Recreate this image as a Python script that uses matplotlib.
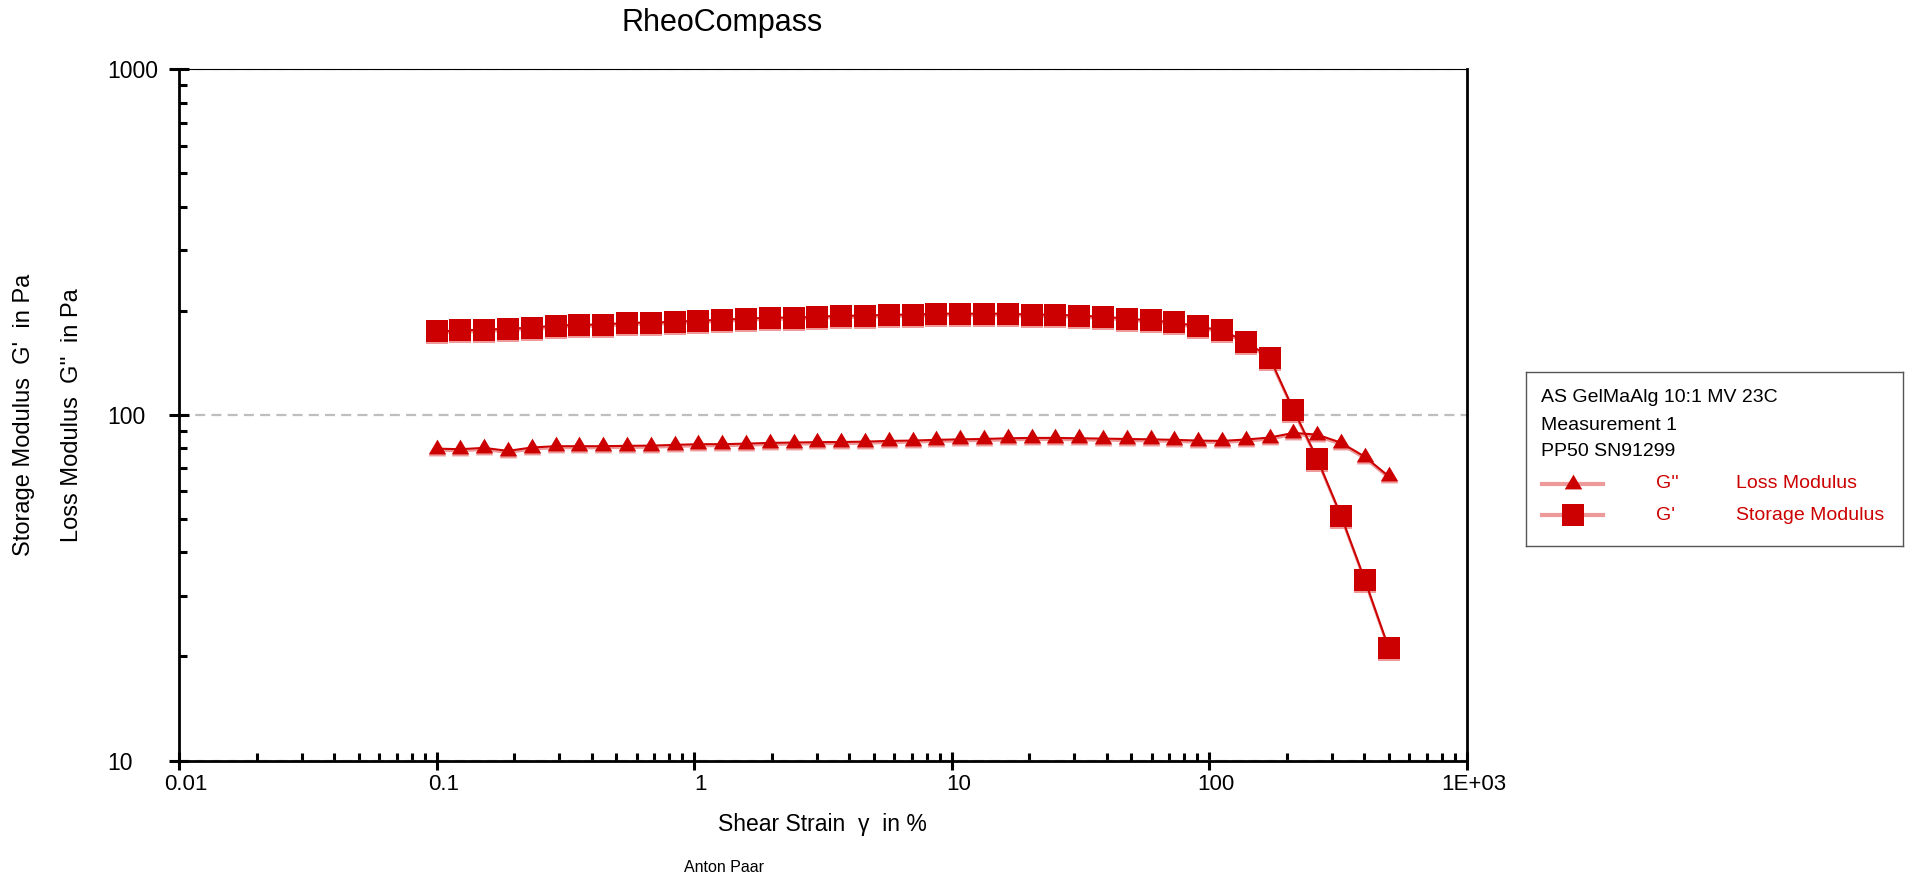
import matplotlib
matplotlib.use("Agg")
import matplotlib.pyplot as plt
import matplotlib.transforms as mtransforms
import matplotlib.ticker as ticker
from matplotlib.path import Path

plt.rcParams['font.family'] = ['Liberation Sans', 'DejaVu Sans']

# shear strain in %
strain = [0.1, 0.1237, 0.1531, 0.1894, 0.2343, 0.2899, 0.3587, 0.4437, 0.549, 0.6792,
          0.8403, 1.04, 1.286, 1.591, 1.969, 2.436, 3.014, 3.728, 4.613, 5.707,
          7.06, 8.735, 10.81, 13.37, 16.54, 20.47, 25.32, 31.32, 38.76, 47.95,
          59.32, 73.39, 90.8, 112.3, 139.0, 172.0, 212.7, 263.2, 325.6, 402.9, 498.4]

# storage modulus G' in Pa
g_storage = [174.1, 175.3, 176.2, 177.4, 178.6, 181.0, 182.2, 182.2, 184.6, 184.6,
             185.8, 187.1, 188.3, 189.6, 190.9, 190.9, 192.1, 193.4, 193.4, 194.7,
             194.7, 196.0, 196.0, 196.0, 196.0, 194.7, 194.7, 193.4, 192.1, 189.6,
             187.5, 185.0, 180.0, 175.3, 162.8, 146.4, 103.5, 74.7, 51.1, 33.3, 21.2]

# loss modulus G'' in Pa
g_loss = [79.8, 79.5, 80.2, 78.6, 80.4, 81.1, 81.1, 81.1, 81.3, 81.4,
          81.8, 82.2, 82.2, 82.5, 82.9, 83.1, 83.3, 83.4, 83.6, 84.0,
          84.2, 84.6, 84.9, 85.1, 85.5, 85.7, 85.7, 85.5, 85.3, 85.1,
          84.9, 84.6, 84.2, 84.0, 84.8, 85.9, 88.6, 87.6, 83.0, 75.6, 66.4]

x_ticks = [0.01, 0.1, 1, 10, 100, 1000]
x_tick_labels = ['0.01', '0.1', '1', '10', '100', '1E+03']
y_ticks = [10, 100, 1000]
y_tick_labels = ['10', '100', '1000']

legend_header = ['AS GelMaAlg 10:1 MV 23C', 'Measurement 1', 'PP50 SN91299']
legend_rows = [("G''", 'Loss Modulus', 'tri'), ("G'", 'Storage Modulus', 'sq')]

RED = '#cc0000'
SHADOW = '#ee9a9a'
W, H = 1905, 875
TRI_MS, SQ_MS = 14.2, 15.3

# triangle with its centroid on the data point
tri = Path([(0, 9.67), (-8.6, -4.83), (8.6, -4.83), (0, 9.67)], closed=True)

fig = plt.figure(figsize=(W / 100, H / 100), dpi=100)
ax = fig.add_axes([179 / W, 1 - 760.5 / H, (1466.5 - 179) / W, (760.5 - 69) / H])
ax.set_xscale('log')
ax.set_yscale('log')
ax.set_xlim(0.01, 1000)
ax.set_ylim(10, 1000)

shadow = mtransforms.offset_copy(ax.transData, fig=fig, x=0, y=-2, units='dots')
ax.plot(strain, g_loss, color=SHADOW, lw=1.6, marker=tri, ms=TRI_MS, mew=0,
        transform=shadow, zorder=3)
ax.plot(strain, g_storage, color=SHADOW, lw=1.6, marker='s', ms=SQ_MS, mew=0,
        transform=shadow, zorder=3)
ax.plot(strain, g_loss, color=RED, lw=1.5, marker=tri, ms=TRI_MS, mew=0, zorder=4)
ax.plot(strain, g_storage, color=RED, lw=1.5, marker='s', ms=SQ_MS, mew=0, zorder=4)

# axes frame
for side in ['left', 'bottom', 'right']:
    ax.spines[side].set_linewidth(2)
ax.spines['top'].set_linewidth(0.8)

ax.yaxis.grid(True, which='major', color='#bebebe', lw=1.6, linestyle=(0, (4.5, 2.8)))
ax.set_axisbelow(True)

ax.set_xticks(x_ticks, labels=x_tick_labels)
ax.set_yticks(y_ticks, labels=y_tick_labels, ha='left')
ax.xaxis.set_minor_locator(ticker.LogLocator(base=10, subs=range(2, 10)))
ax.yaxis.set_minor_locator(ticker.LogLocator(base=10, subs=range(2, 10)))
ax.xaxis.set_minor_formatter(ticker.NullFormatter())
ax.yaxis.set_minor_formatter(ticker.NullFormatter())
ax.tick_params(axis='x', which='major', direction='inout', length=13, width=2.2,
               labelsize=16, pad=3)
ax.tick_params(axis='y', which='major', direction='inout', length=14, width=2.2,
               labelsize=16.5, pad=44.6)
ax.tick_params(which='minor', direction='in', length=5.8, width=2.2)

shift = mtransforms.ScaledTranslation(7 / 100, 0, fig.dpi_scale_trans)
for lbl in ax.get_xticklabels():
    lbl.set_transform(lbl.get_transform() + shift)

ax.set_xlabel('Shear Strain  γ  in %', fontsize=16.5, va='center')
ax.xaxis.set_label_coords(0.5, -(824 - 760.5) / 691.5)

fig.text(24 / W, 1 - 415 / H, "Storage Modulus  G'  in Pa", rotation=90,
         ha='center', va='center', fontsize=17)
fig.text(72 / W, 1 - 415 / H, "Loss Modulus  G''  in Pa", rotation=90,
         ha='center', va='center', fontsize=17)
fig.text(722 / W, 1 - 23 / H, 'RheoCompass', ha='center', va='center', fontsize=22)
fig.text(724 / W, 1 - 867 / H, 'Anton Paar', ha='center', va='center', fontsize=11.5)

# legend box, drawn in its own pixel-sized axes
bx0, by0, bw, bh = 1526, 372, 377, 174
leg = fig.add_axes([bx0 / W, 1 - (by0 + bh) / H, bw / W, bh / H])
leg.set_xlim(0, bw)
leg.set_ylim(bh, 0)
leg.set_xticks([])
leg.set_yticks([])
for sp in leg.spines.values():
    sp.set_color('#555555')
    sp.set_linewidth(1)
for i, line in enumerate(legend_header):
    leg.text(15, 26 + 27 * i, line, ha='left', va='center', fontsize=14)
for i, (sym, name, mk) in enumerate(legend_rows):
    yy = 111.5 + 31.5 * i
    marker = tri if mk == 'tri' else 's'
    ms = TRI_MS if mk == 'tri' else SQ_MS
    leg.plot([16, 77], [yy, yy], color=SHADOW, lw=3)
    leg.plot([46.5], [yy], color=RED, marker=marker, ms=ms, mew=0)
    leg.text(130, yy, sym, color=RED, ha='left', va='center', fontsize=14)
    leg.text(210, yy, name, color=RED, ha='left', va='center', fontsize=14)

fig.savefig('out.png', dpi=100)
